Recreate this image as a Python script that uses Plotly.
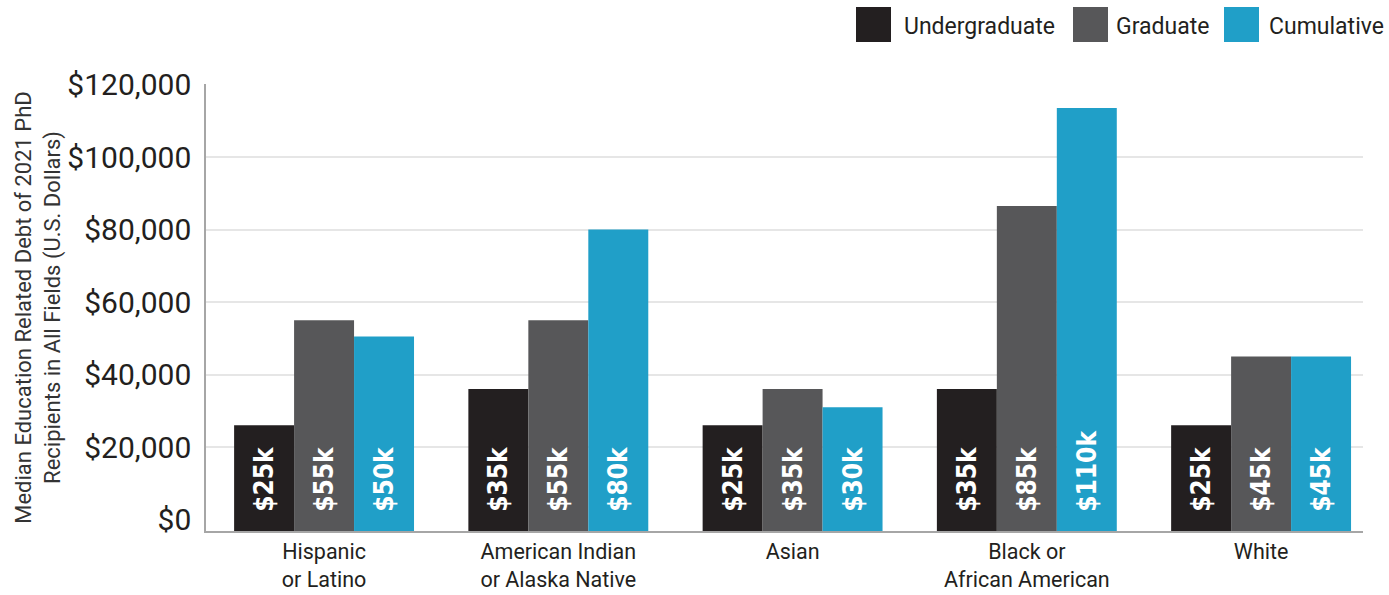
import plotly.graph_objects as go

# ---------------- data ----------------
categories = ["Hispanic<br>or Latino", "American Indian<br>or Alaska Native", "Asian",
              "Black or<br>African American", "White"]
series_names = ["Undergraduate", "Graduate", "Cumulative"]
undergraduate = [26000, 36000, 26000, 36000, 26000]
graduate = [55000, 55000, 36000, 86500, 45000]
cumulative = [50500, 80000, 31000, 113500, 45000]
undergraduate_labels = ["$25k", "$35k", "$25k", "$35k", "$25k"]
graduate_labels = ["$55k", "$55k", "$35k", "$85k", "$45k"]
cumulative_labels = ["$50k", "$80k", "$30k", "$110k", "$45k"]
y_tickvals = [0, 20000, 40000, 60000, 80000, 100000, 120000]

# ---------------- style ----------------
colors = ["#231f20", "#575759", "#209fc8"]
W, H = 1389, 595
ML, MR, MT, MB = 206, 26, 84, 64
Y_MIN, Y_MAX = -3150, 120150
X_RANGE = [-0.504, 4.435]
TEXT_COLOR = "#231f20"
FONT = "Roboto"
LABEL_FONT = "DejaVu Sans Condensed, DejaVu Sans, Roboto"
PAD = "\u00a0\u00a0"

fig = go.Figure()
for name, vals, labels, col in zip(series_names,
                                   [undergraduate, graduate, cumulative],
                                   [undergraduate_labels, graduate_labels, cumulative_labels],
                                   colors):
    fig.add_trace(go.Bar(
        name=name, x=categories,
        y=[v - Y_MIN for v in vals], base=Y_MIN,
        marker=dict(color=col, line=dict(width=0)),
        text=[PAD + t for t in labels],
        textposition="inside", insidetextanchor="start", textangle=-90,
        textfont=dict(family=LABEL_FONT, size=26, color="white", weight="bold"),
        showlegend=False, hoverinfo="skip",
    ))

# custom legend (large squares) in paper coordinates
pw = W - ML - MR
ph = H - MT - MB
def px_x(x):
    return (x - ML) / pw
def px_y(y):
    return (H - MB - y) / ph

legend_sq_x = [856, 1073, 1224]
legend_txt_x = [902, 1114, 1267]
shapes = []
annotations = []
for name, col, sx, tx in zip(series_names, colors, legend_sq_x, legend_txt_x):
    shapes.append(dict(type="rect", xref="paper", yref="paper",
                       x0=px_x(sx), x1=px_x(sx + 35), y0=px_y(42), y1=px_y(7),
                       fillcolor=col, line=dict(width=0)))
    annotations.append(dict(text=name, xref="paper", yref="paper",
                            x=px_x(tx), y=px_y(26), xanchor="left", yanchor="middle",
                            showarrow=False,
                            font=dict(family=FONT, size=23, color=TEXT_COLOR)))

fig.update_layout(
    width=W, height=H,
    margin=dict(l=ML, r=MR, t=MT, b=MB, autoexpand=False),
    paper_bgcolor="white", plot_bgcolor="white",
    barmode="group", bargap=0.232, bargroupgap=0,
    font=dict(family=FONT, color=TEXT_COLOR),
    shapes=shapes, annotations=annotations,
)
fig.update_xaxes(
    range=X_RANGE,
    showline=True, linecolor="#a6a6a6", linewidth=1.5,
    ticks="", tickfont=dict(family=FONT, size=21.5, color=TEXT_COLOR),
    ticklabelstandoff=0,
    showgrid=False, automargin=False,
)
fig.update_yaxes(
    range=[Y_MIN, Y_MAX], tickvals=y_tickvals, tickformat="$,.0f",
    tickfont=dict(family=FONT, size=30, color=TEXT_COLOR),
    ticklabelstandoff=7,
    showline=True, linecolor="#a6a6a6", linewidth=1.5,
    showgrid=True, gridcolor="#e6e6e6", gridwidth=1.5,
    zeroline=True, zerolinecolor="white", zerolinewidth=2,
    ticks="", ticklen=0, automargin=False,
    title=dict(text="Median Education Related Debt of 2021 PhD<br>Recipients in All Fields (U.S. Dollars)",
               font=dict(family=FONT, size=22, color="#333333"), standoff=1),
)

fig.write_html("out.html", config={"displayModeBar": False},
               post_script="document.body.style.margin='0';")
